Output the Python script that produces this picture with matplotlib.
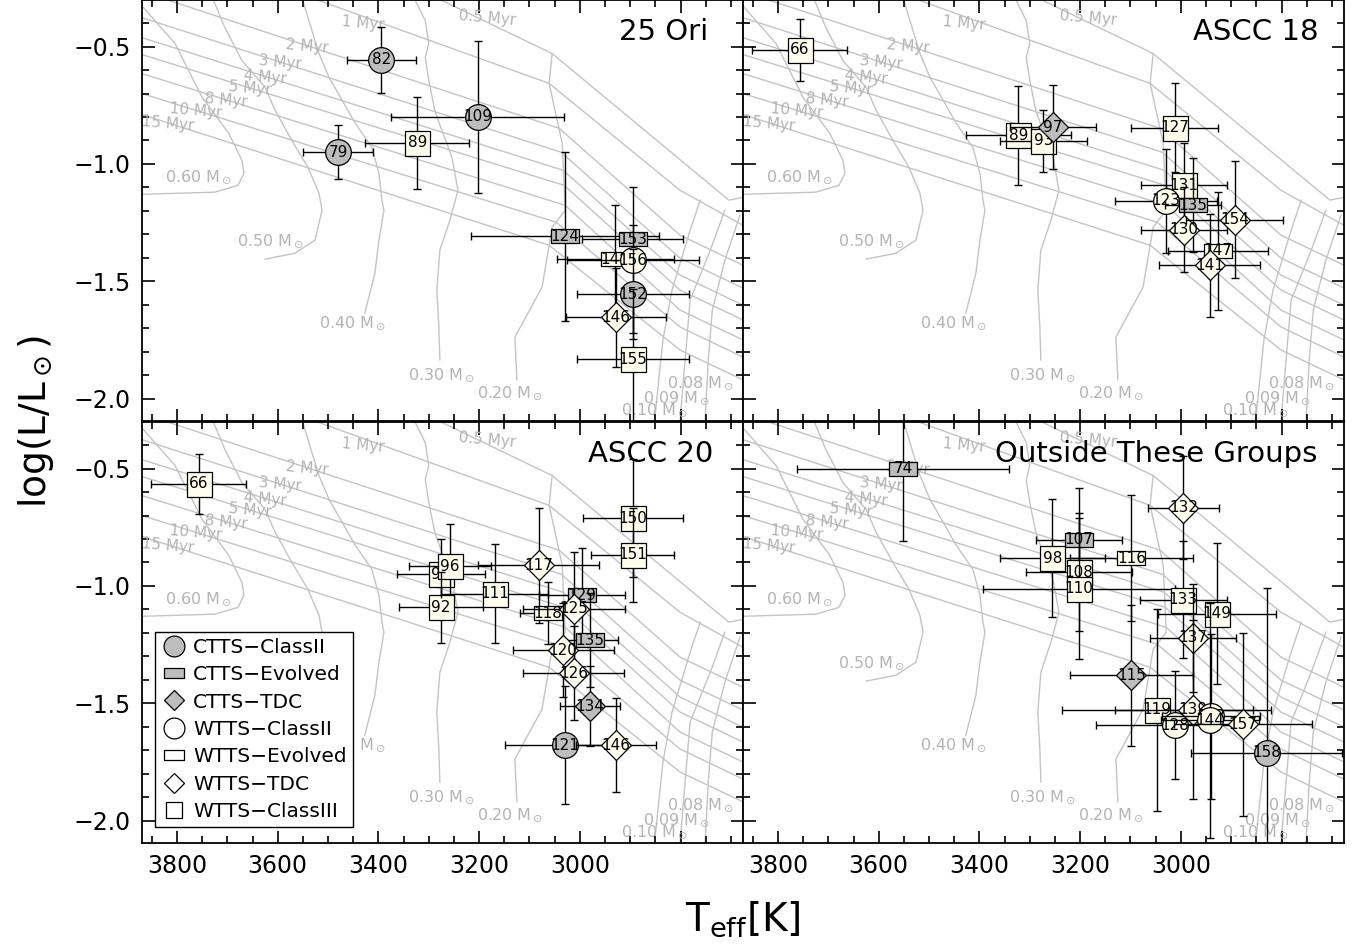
import matplotlib
matplotlib.use('Agg')
import matplotlib.pyplot as plt
from matplotlib.path import Path
from matplotlib.lines import Line2D
from matplotlib.ticker import MultipleLocator, FixedLocator, FixedFormatter

# ---------------- model grid: isochrones (Teff [K], log L/Lsun) ----------------
iso_labels = ['0.5 Myr', '1 Myr', '2 Myr', '3 Myr', '4 Myr', '5 Myr', '8 Myr', '10 Myr', '15 Myr']
iso_teff = [
    [3397, 3055, 2704, 2676],
    [3556, 3061, 2801, 2676],
    [3870, 3041, 2801, 2676],
    [3870, 3037, 2801, 2676],
    [3870, 3033, 2801, 2676],
    [3870, 3031, 2801, 2676],
    [3870, 3029, 2801, 2676],
    [3870, 3047, 2801, 2676],
    [3870, 3061, 2801, 2676],
]
iso_logl = [
    [-0.177, -0.530, -1.154, -1.142],
    [-0.275, -0.657, -1.112, -1.261],
    [-0.266, -0.848, -1.303, -1.431],
    [-0.377, -0.950, -1.401, -1.528],
    [-0.462, -1.027, -1.473, -1.601],
    [-0.534, -1.091, -1.537, -1.664],
    [-0.615, -1.176, -1.622, -1.749],
    [-0.700, -1.248, -1.694, -1.822],
    [-0.789, -1.346, -1.792, -1.919],
]
iso_lab_teff = [3184, 3431, 3542, 3595, 3625, 3655, 3703, 3762, 3818]
iso_lab_logl = [-0.377, -0.402, -0.500, -0.568, -0.632, -0.678, -0.729, -0.772, -0.827]

# ---------------- model grid: mass tracks ----------------
trk_labels = ['0.60', '0.50', '0.40', '0.30', '0.20', '0.10', '0.09', '0.08']
trk_teff = [
    [3900, 3870, 3804, 3750, 3697, 3671, 3667, 3679, 3725, 3870, 3900],
    [3730, 3705, 3671, 3625, 3605, 3572, 3540, 3518, 3512, 3526, 3566, 3625],
    [3552, 3538, 3518, 3498, 3472, 3446, 3413, 3399, 3393, 3389, 3399, 3407, 3427],
    [3330, 3307, 3300, 3307, 3300, 3288, 3274, 3254, 3242, 3258, 3278, 3284, 3280, 3278],
    [3055, 3061, 3035, 3029, 3055, 3075, 3129, 3125],
    [2761, 2781, 2817, 2835, 2853],
    [2712, 2741, 2781, 2791, 2802],
    [2682, 2712, 2737, 2745, 2752],
]
trk_logl = [
    [-0.26, -0.326, -0.487, -0.717, -0.870, -0.985, -1.040, -1.091, -1.120, -1.129, -1.13],
    [-0.29, -0.419, -0.560, -0.674, -0.772, -0.899, -1.014, -1.125, -1.197, -1.324, -1.380, -1.405],
    [-0.29, -0.390, -0.530, -0.632, -0.729, -0.827, -0.929, -1.040, -1.154, -1.197, -1.324, -1.465, -1.635],
    [-0.29, -0.390, -0.487, -0.547, -0.644, -0.772, -0.857, -0.972, -1.112, -1.239, -1.367, -1.537, -1.694, -1.834],
    [-0.530, -0.657, -0.912, -1.197, -1.269, -1.524, -1.737, -1.919],
    [-1.154, -1.282, -1.537, -1.749, -2.12],
    [-1.197, -1.367, -1.579, -1.834, -2.12],
    [-1.218, -1.409, -1.622, -1.834, -2.12],
]
trk_lab_teff = [3758, 3615, 3452, 3274, 3139, 2851, 2807, 2761]
trk_lab_logl = [-1.057, -1.329, -1.677, -1.898, -1.975, -2.047, -1.996, -1.932]

# ---------------- stars: 25 Ori ----------------
ori_id = [82, 79, 89, 109, 124, 153, 148, 156, 152, 146, 155]
ori_kind = ['C2', 'C2', 'W3', 'C2', 'CE', 'CE', 'WE', 'W2', 'C2', 'WT', 'W3']
ori_teff = [3394, 3480, 3323, 3203, 3029, 2895, 2930, 2894, 2895, 2928, 2895]
ori_teff_err = [68, 69, 103, 172, 187, 100, 116, 131, 111, 100, 111]
ori_logl = [-0.557, -0.949, -0.909, -0.800, -1.307, -1.321, -1.406, -1.409, -1.554, -1.653, -1.831]
ori_logl_err = [0.14, 0.115, 0.196, 0.325, 0.36, 0.06, 0.23, 0.31, 0.19, 0.21, 0.30]

# ---------------- stars: ASCC 18 ----------------
a18_id = [66, 89, 93, 97, 127, 131, 123, 135, 130, 154, 147, 141]
a18_kind = ['W3', 'W3', 'W3', 'CT', 'W3', 'W3', 'W2', 'CE', 'WT', 'WT', 'WE', 'WT']
a18_teff = [3757, 3323, 3273, 3254, 3012, 2994, 3030, 2976, 2994, 2893, 2926, 2943]
a18_teff_err = [95, 104, 87, 86, 86, 85, 101, 55, 86, 96, 100, 100]
a18_logl = [-0.514, -0.878, -0.902, -0.843, -0.846, -1.091, -1.157, -1.176, -1.279, -1.237, -1.370, -1.431]
a18_logl_err = [0.133, 0.21, 0.13, 0.18, 0.19, 0.18, 0.22, 0.20, 0.18, 0.25, 0.25, 0.22]

# ---------------- stars: ASCC 20 ----------------
a20_id = [66, 93, 96, 92, 111, 117, 150, 151, 129, 118, 125, 135, 120, 126, 134, 121, 146]
a20_kind = ['W3', 'W3', 'W3', 'W3', 'W3', 'WT', 'W3', 'W3', 'CE', 'WE', 'WT', 'CE', 'WT', 'WT', 'CT', 'C2', 'WT']
a20_teff = [3757, 3276, 3258, 3276, 3169, 3082, 2895, 2895, 2996, 3063, 3012, 2980, 3033, 3012, 2980, 3029, 2928]
a20_teff_err = [95, 87, 82, 83, 106, 121, 99, 82, 85, 55, 101, 55, 100, 100, 60, 120, 80]
a20_logl = [-0.565, -0.950, -0.916, -1.091, -1.033, -0.912, -0.711, -0.867, -1.040, -1.115, -1.096,
            -1.231, -1.273, -1.371, -1.511, -1.677, -1.677]
a20_logl_err = [0.128, 0.15, 0.18, 0.15, 0.21, 0.246, 0.25, 0.2, 0.2, 0.13, 0.24, 0.2, 0.2, 0.2, 0.17, 0.25, 0.2]

# ---------------- stars: outside these groups ----------------
out_id = [74, 132, 107, 98, 116, 108, 110, 133, 149, 137, 115, 119, 128, 139, 143, 144, 157, 158]
out_kind = ['CE', 'WT', 'CE', 'W3', 'WE', 'W3', 'W3', 'W3', 'W3', 'WT', 'CT', 'W3', 'W2', 'WT', 'W2', 'W2', 'WT', 'C2']
out_teff = [3552, 2995, 3202, 3255, 3098, 3202, 3202, 2995, 2928, 2976, 3098, 3047, 3012, 2976, 2940, 2942, 2877, 2829]
out_teff_err = [210, 70, 86, 104, 122, 105, 190, 86, 117, 85, 122, 190, 156, 155, 98, 98, 137, 150]
out_logl = [-0.500, -0.666, -0.803, -0.881, -0.881, -0.941, -1.011, -1.058, -1.119, -1.220, -1.380,
            -1.526, -1.592, -1.526, -1.555, -1.571, -1.588, -1.710]
out_logl_err = [0.31, 0.22, 0.22, 0.25, 0.27, 0.25, 0.3, 0.25, 0.3, 0.23, 0.3, 0.43, 0.23, 0.38, 0.35, 0.5, 0.39, 0.7]

legend_kinds = ['C2', 'CE', 'CT', 'W2', 'WE', 'WT', 'W3']
legend_names = ['CTTS\u2212ClassII', 'CTTS\u2212Evolved', 'CTTS\u2212TDC', 'WTTS\u2212ClassII',
                'WTTS\u2212Evolved', 'WTTS\u2212TDC', 'WTTS\u2212ClassIII']

GRAY = '#bdbdbd'
CREAM = '#fffff0'
MODEL = '#c4c4c4'
MODEL_TXT = '#b4b4b4'
RECT = Path([(-1, -0.5), (1, -0.5), (1, 0.5), (-1, 0.5), (-1, -0.5)],
            [Path.MOVETO, Path.LINETO, Path.LINETO, Path.LINETO, Path.CLOSEPOLY])

style = {
    'C2': ('o', 18.5, GRAY), 'CE': (RECT, 19.5, GRAY), 'CT': ('D', 15.5, GRAY),
    'W2': ('o', 18.5, CREAM), 'WE': (RECT, 19.5, CREAM), 'WT': ('D', 15.5, CREAM),
    'W3': ('s', 18, CREAM),
}
legend_style = {
    'C2': ('o', 15, GRAY), 'CE': (RECT, 15, GRAY), 'CT': ('D', 10.5, GRAY),
    'W2': ('o', 15, 'white'), 'WE': (RECT, 15, 'white'), 'WT': ('D', 10.5, 'white'),
    'W3': ('s', 12, 'white'),
}

plt.rcParams['font.family'] = ['DejaVu Sans']
plt.rcParams['mathtext.default'] = 'regular'

fig = plt.figure(figsize=(13.66, 9.51), dpi=100)
xl, xr = 142 / 1366, 743 / 1366
w = 601 / 1366
yb, yt = 108 / 951, 530 / 951
h = 421 / 951
axes = [fig.add_axes([xl, yt, w, h]), fig.add_axes([xr, yt, w, h]),
        fig.add_axes([xl, yb, w, h]), fig.add_axes([xr, yb, w, h])]


def draw_models(ax):
    for t, l in zip(iso_teff, iso_logl):
        ax.plot(t, l, color=MODEL, lw=1.0, zorder=1)
    for t, l in zip(trk_teff, trk_logl):
        ax.plot(t, l, color=MODEL, lw=1.0, zorder=1)
    for name, t, l in zip(iso_labels, iso_lab_teff, iso_lab_logl):
        ax.text(t, l, name, color=MODEL_TXT, fontsize=11, ha='center', va='center',
                rotation=-5, zorder=2)
    for name, t, l in zip(trk_labels, trk_lab_teff, trk_lab_logl):
        ax.text(t, l, name + r' M$_\odot$', color=MODEL_TXT, fontsize=11.5, ha='center',
                va='center', zorder=2)


def draw_stars(ax, ids, kinds, teff, terr, logl, lerr):
    z = 3
    for i, k, t, te, l, le in zip(ids, kinds, teff, terr, logl, lerr):
        m, ms, fc = style[k]
        ax.errorbar([t], [l], xerr=[te], yerr=[le], fmt='none', ecolor='black',
                    elinewidth=1.0, capsize=3, capthick=1.0, zorder=z)
        ax.plot([t], [l], linestyle='none', marker=m, ms=ms, mfc=fc, mec='black',
                mew=0.9, zorder=z + 0.1)
        ax.text(t, l, str(i), fontsize=11, ha='center', va='center', zorder=z + 0.2)
        z += 0.5


panels = [
    ('25 Ori', 0.943, ori_id, ori_kind, ori_teff, ori_teff_err, ori_logl, ori_logl_err),
    ('ASCC 18', 0.957, a18_id, a18_kind, a18_teff, a18_teff_err, a18_logl, a18_logl_err),
    ('ASCC 20', 0.951, a20_id, a20_kind, a20_teff, a20_teff_err, a20_logl, a20_logl_err),
    ('Outside These Groups', 0.955, out_id, out_kind, out_teff, out_teff_err, out_logl, out_logl_err),
]

for n, (ax, p) in enumerate(zip(axes, panels)):
    title, tx = p[0], p[1]
    draw_models(ax)
    draw_stars(ax, *p[2:])
    ax.set_xlim(3869.5, 2676)
    ax.set_ylim(-2.094, -0.302)
    ax.xaxis.set_major_locator(FixedLocator([3800, 3600, 3400, 3200, 3000, 2800]))
    ax.xaxis.set_major_formatter(FixedFormatter(['3800', '3600', '3400', '3200', '3000', '']))
    ax.xaxis.set_minor_locator(MultipleLocator(50))
    ax.yaxis.set_major_locator(MultipleLocator(0.5))
    ax.yaxis.set_minor_locator(MultipleLocator(0.1))
    ax.tick_params(which='both', direction='in', top=True, right=True, width=1.2,
                   labelsize=17, pad=8)
    ax.tick_params(which='major', length=9)
    ax.tick_params(which='minor', length=5)
    if n < 2:
        ax.tick_params(labelbottom=False)
    if n % 2 == 1:
        ax.tick_params(labelleft=False)
    else:
        ax.yaxis.set_major_formatter(plt.FuncFormatter(lambda v, pos: f'{v:.1f}'.replace('-', '\u2212')))
    for s in ax.spines.values():
        s.set_linewidth(1.3)
    ax.text(tx, 0.924, title, transform=ax.transAxes, ha='right', va='center',
            fontsize=21, zorder=10)

handles = []
for k in legend_kinds:
    m, ms, fc = legend_style[k]
    handles.append(Line2D([], [], linestyle='none', marker=m, ms=ms, mfc=fc, mec='black', mew=0.9))
leg = axes[2].legend(handles, legend_names, loc='lower left', bbox_to_anchor=(0.021, 0.037),
                     fontsize=14.5, frameon=True, fancybox=False, framealpha=1,
                     edgecolor='black', borderpad=0.3, labelspacing=0.42,
                     handletextpad=0.3, handlelength=1.3, borderaxespad=0)
leg.get_frame().set_linewidth(1.0)
leg.set_zorder(20)

fig.text(0.026, 0.557, r'log(L/L$_\odot$)', rotation=90, ha='center', va='center', fontsize=27)
fig.text(0.544, 0.033, r'T$_{eff}$[K]', ha='center', va='center', fontsize=28)

fig.savefig('out.png', dpi=100)
